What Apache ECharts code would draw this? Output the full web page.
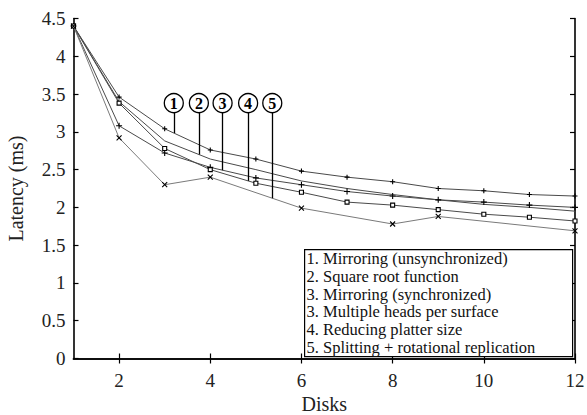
<!DOCTYPE html>
<html><head><meta charset="utf-8">
<script src="https://cdn.jsdelivr.net/npm/echarts@6/dist/echarts.min.js"></script>
<style>html,body{margin:0;padding:0;background:#fff}#c{width:587px;height:415px}</style>
</head><body><div id="c"></div>
<script>
// ---- data ----
const disks = [1,2,3,4,5,6,7,8,9,10,11,12];
const mirrorUnsync = [4.40,3.46,3.04,2.76,2.64,2.48,2.40,2.34,2.25,2.22,2.17,2.15];
const sqrtFunction = [4.40,3.40,2.88,2.64,2.50,2.35,2.25,2.17,2.10,2.04,2.00,1.95];
const mirrorSync   = [4.40,3.08,2.72,2.53,2.39,2.30,2.21,2.15,2.10,2.07,2.03,2.00];
const platterSize  = [4.40,3.38,2.78,2.50,2.32,2.20,2.07,2.03,1.97,1.91,1.87,1.82];
const splitDisks   = [1,2,3,4,6,8,9,12];
const splitting    = [4.40,2.92,2.30,2.40,1.99,1.78,1.88,1.69];
const xTickValues  = [2,4,6,8,10,12];
const legendLines = [
  '1. Mirroring (unsynchronized)',
  '2. Square root function',
  '3. Mirroring (synchronized)',
  '3. Multiple heads per surface',
  '4. Reducing platter size',
  '5. Splitting + rotational replication'
];
const calloutLabels = ['1','2','3','4','5'];
const calloutX = [3.20,3.75,4.27,4.83,5.36];
const calloutCircleY = 3.38;

// ---- helpers ----
const FONT = '"Liberation Serif", "Times New Roman", Times, serif';
function pairs(xs, ys){ return xs.map((x,i)=>[x, ys[i]]); }
function yAt(xs, ys, x){
  for (let i=0;i<xs.length-1;i++){
    if (x>=xs[i] && x<=xs[i+1]) return ys[i] + (ys[i+1]-ys[i])*(x-xs[i])/(xs[i+1]-xs[i]);
  }
  return ys[ys.length-1];
}
const plusPath = 'path://M0,5L10,5M5,0L5,10';
const crossPath = 'path://M0,0L10,10M10,0L0,10';

const seriesDefs = [
  {name:'1', xs:disks, ys:mirrorUnsync, symbol:plusPath, size:5, color:'#4a4a4a'},
  {name:'2', xs:disks, ys:sqrtFunction, symbol:'none', size:0, color:'#4a4a4a'},
  {name:'3', xs:disks, ys:mirrorSync, symbol:plusPath, size:6, color:'#4a4a4a'},
  {name:'4', xs:disks, ys:platterSize, symbol:'rect', size:4, color:'#4a4a4a'},
  {name:'5', xs:splitDisks, ys:splitting, symbol:crossPath, size:5, color:'#7a7a7a'}
];

const series = seriesDefs.map((d,i)=>{
  const cx = calloutX[i];
  const cy = yAt(d.xs, d.ys, cx);
  return {
    type:'line', name:d.name, data:pairs(d.xs,d.ys),
    symbol:d.symbol, symbolSize:d.size, showSymbol:d.symbol!=='none',
    lineStyle:{color:d.color, width:1},
    itemStyle:{color: d.symbol==='rect' ? '#fff' : 'none', borderColor:'#000', borderWidth:1.1},
    animation:false, silent:true, z:2,
    markLine:{
      silent:true, symbol:['none','none'], animation:false,
      label:{show:false},
      lineStyle:{color:'#000', width:1.3, type:'solid'},
      data:[[{coord:[cx, calloutCircleY-0.12]},{coord:[cx, cy]}]]
    },
    markPoint:{
      silent:true, animation:false,
      symbol:'circle', symbolSize:19,
      itemStyle:{color:'#fff', borderColor:'#000', borderWidth:1.3},
      label:{show:true, position:'inside', formatter:calloutLabels[i], color:'#000',
             fontFamily:FONT, fontSize:16, fontWeight:'bold'},
      data:[{coord:[cx, calloutCircleY]}]
    }
  };
});

const axisText = {color:'#222', fontFamily:FONT, fontSize:19};
const chart = echarts.init(document.getElementById('c'), null, {renderer:'svg'});
chart.setOption({
  backgroundColor:'#fff',
  animation:false,
  grid:{left:73.5, right:12, top:18.5, bottom:56.5, containLabel:false, outerBoundsMode:'none'},
  xAxis:[
    {type:'value', min:1, max:12, position:'bottom',
     name:'Disks', nameLocation:'middle', nameGap:35,
     nameTextStyle:{color:'#222', fontFamily:FONT, fontSize:20},
     axisLine:{show:true, lineStyle:{color:'#000', width:1.6}},
     axisTick:{show:true, inside:true, length:5, customValues:xTickValues, lineStyle:{color:'#000', width:1.2}},
     axisLabel:{show:true, margin:12, customValues:xTickValues, ...axisText},
     splitLine:{show:false}},
    {type:'value', min:1, max:12, position:'top',
     axisLine:{show:true, lineStyle:{color:'#000', width:1.6}},
     axisTick:{show:true, inside:true, length:5, customValues:xTickValues, lineStyle:{color:'#000', width:1.2}},
     axisLabel:{show:false}, splitLine:{show:false}}
  ],
  yAxis:[
    {type:'value', min:0, max:4.5, interval:0.5, position:'left',
     name:'Latency (ms)', nameLocation:'middle', nameGap:48, nameRotate:90,
     nameTextStyle:{color:'#222', fontFamily:FONT, fontSize:20},
     axisLine:{show:true, lineStyle:{color:'#000', width:1.6}},
     axisTick:{show:true, inside:true, length:5, lineStyle:{color:'#000', width:1.2}},
     axisLabel:{show:true, margin:8, formatter:(v)=>String(v), ...axisText},
     splitLine:{show:false}},
    {type:'value', min:0, max:4.5, interval:0.5, position:'right',
     axisLine:{show:true, lineStyle:{color:'#000', width:1.6}},
     axisTick:{show:true, inside:true, length:5, lineStyle:{color:'#000', width:1.2}},
     axisLabel:{show:false}, splitLine:{show:false}}
  ],
  series: series,
  graphic:[
    {type:'rect', left:304, top:249, z:10,
     shape:{width:268, height:107},
     style:{fill:'#fff', stroke:'#000', lineWidth:1.2}},
    {type:'text', left:306.5, top:250, z:11,
     style:{text:legendLines.join('\n'), fill:'#111', fontFamily:FONT, fontSize:16.5, lineHeight:17.7}}
  ]
});
</script>
</body></html>
